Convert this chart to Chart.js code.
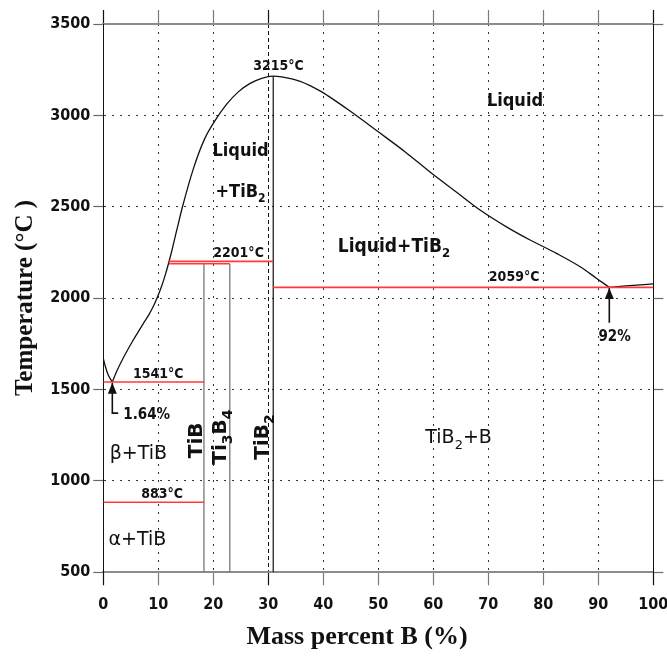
<!DOCTYPE html>
<html>
<head>
<meta charset="utf-8">
<script src="https://cdn.jsdelivr.net/npm/chart.js@4/dist/chart.umd.min.js"></script>
<style>
  html, body { margin: 0; padding: 0; background: #fff; }
  #wrap { width: 667px; height: 661px; }
</style>
</head>
<body>
<div id="wrap"><canvas id="c" width="667" height="661"></canvas></div>
<script>
// Ti–B phase diagram: temperature (°C) vs. mass percent B

const xTicks = [0, 10, 20, 30, 40, 50, 60, 70, 80, 90, 100];
const yTicks = [500, 1000, 1500, 2000, 2500, 3000, 3500];

// Liquidus, Ti-rich branch down to the eutectic at 1.64 % B
const liquidusTiSide = [[0, 1670], [0.3, 1634], [0.9, 1579], [1.64, 1541]];

// Liquidus of TiB2 from the Ti-side eutectic over the congruent maximum to the B-side eutectic
const liquidusMain = [
  [1.64, 1541], [2.4, 1597], [3.6, 1671], [5.45, 1771], [7.3, 1862], [8.3, 1910],
  [9.3, 1968], [10.3, 2040], [11.3, 2130], [12.3, 2240], [13.3, 2365], [14.4, 2500],
  [16.4, 2710], [18.4, 2870], [20.4, 2975], [22.4, 3060], [24.6, 3130], [26.7, 3175],
  [28.8, 3203], [30.9, 3215], [32.4, 3211], [35.8, 3186], [39.4, 3134], [41.2, 3100],
  [44.8, 3025], [50.0, 2910], [54.9, 2800], [59.4, 2690], [64.3, 2578], [68.5, 2482],
  [73.3, 2390], [77.6, 2318], [82.4, 2245], [86.7, 2172], [89.7, 2108], [92, 2059]
];

// Liquidus of boron, B-side eutectic to pure B
const liquidusBSide = [[92, 2059], [95, 2067], [100, 2078]];

// Compound lines: composition (% B) and upper temperature
const compoundNames = ['TiB', 'Ti3B4', 'TiB2'];
const compoundX     = [18.3, 23.0, 30.9];
const compoundTop   = [2188, 2188, 3215];

// Invariant isotherms: temperature and composition span
const isothermT     = [2201, 2188, 2059, 1541, 883];
const isothermFrom  = [11.9, 11.9, 30.9, 0, 0];
const isothermTo    = [30.9, 23.0, 100, 18.3, 18.3];

// Marker arrows for the eutectic compositions
const arrow92  = [[92, 1865], [92, 2056]];
const arrow164 = [[2.7, 1371], [1.64, 1371], [1.64, 1537]];

const SANS_C = '"DejaVu Sans Condensed", "DejaVu Sans", sans-serif';
const SANS = '"DejaVu Sans", sans-serif';
const SERIF = '"Liberation Serif", "Times New Roman", serif';

// Text placed on the diagram (x in % B, y in °C; alphabetic baseline)
const annotations = [
  { text: '3215°C',       x: 31.85, y: 3249, size: 14 },
  { text: 'Liquid',       x: 74.85, y: 3051, size: 18 },
  { text: 'Liquid',       x: 24.95, y: 2777, size: 18 },
  { text: '+TiB_2',       x: 24.95, y: 2555, size: 18 },
  { text: 'Liquid+TiB_2', x: 52.85, y: 2254, size: 19 },
  { text: '2201°C',       x: 24.6,  y: 2226, size: 14 },
  { text: '2059°C',       x: 74.7,  y: 2094, size: 14 },
  { text: '92%',          x: 92.95, y: 1765, size: 15 },
  { text: '1541°C',       x: 10.0,  y: 1565, size: 14 },
  { text: '1.64%',        x: 3.64,  y: 1337, size: 15, align: 'left' },
  { text: 'β+TiB',        x: 6.37,  y: 1118, size: 19, weight: 'normal', family: SANS },
  { text: '883°C',        x: 10.7,  y: 908,  size: 14 },
  { text: 'α+TiB',        x: 6.2,   y: 649,  size: 19, weight: 'normal', family: SANS },
  { text: 'TiB_2+B',      x: 64.6,  y: 1206, size: 19, weight: 'normal', family: SANS },
  { text: 'TiB',          x: 17.9,  y: 1222, size: 20, angle: -90, family: SANS },
  { text: 'Ti_3B_4',      x: 22.3,  y: 1240, size: 20, angle: -90, family: SANS },
  { text: 'TiB_2',        x: 29.9,  y: 1240, size: 20, angle: -90, family: SANS }
];

const pts = a => a.map(([x, y]) => ({ x, y }));

const datasets = [];
// isotherms (red)
isothermT.forEach((t, i) => {
  datasets.push({
    label: t + '°C', data: pts([[isothermFrom[i], t], [isothermTo[i], t]]),
    showLine: true, borderColor: '#ff3a3a', borderWidth: 1.6, pointRadius: 0
  });
});
// compound lines
compoundNames.forEach((n, i) => {
  datasets.push({
    label: n, data: pts([[compoundX[i], 500], [compoundX[i], compoundTop[i]]]),
    showLine: true, borderColor: n === 'TiB2' ? '#222' : '#777', borderWidth: 1.3, pointRadius: 0
  });
});
// liquidus curves
[liquidusTiSide, liquidusMain, liquidusBSide].forEach((d, i) => {
  datasets.push({
    label: 'liquidus ' + i, data: pts(d), showLine: true, borderColor: '#111',
    borderWidth: 1.3, pointRadius: 0, cubicInterpolationMode: 'monotone'
  });
});
// arrows
[arrow92, arrow164].forEach((d, i) => {
  datasets.push({
    label: 'arrow ' + i, data: pts(d), showLine: true, borderColor: '#111',
    borderWidth: 1.6, pointRadius: 0, arrowHead: true
  });
});

function parseRich(s) {
  const parts = []; const re = /_(\d+)/g; let last = 0, m;
  while ((m = re.exec(s))) {
    if (m.index > last) parts.push({ t: s.slice(last, m.index), sub: false });
    parts.push({ t: m[1], sub: true });
    last = re.lastIndex;
  }
  if (last < s.length) parts.push({ t: s.slice(last), sub: false });
  return parts;
}

function drawRich(ctx, s, px, py, o) {
  const parts = parseRich(s);
  const fam = o.family || SANS_C;
  const wt = o.weight || 'bold';
  const main = `${wt} ${o.size}px ${fam}`;
  const subSize = Math.round(o.size * 0.68);
  const sub = `${wt} ${subSize}px ${fam}`;
  ctx.save();
  ctx.translate(px, py);
  if (o.angle) ctx.rotate(o.angle * Math.PI / 180);
  let w = 0;
  parts.forEach(p => { ctx.font = p.sub ? sub : main; p.w = ctx.measureText(p.t).width; w += p.w; });
  let cx = o.align === 'left' ? 0 : -w / 2;
  ctx.fillStyle = '#111';
  ctx.textBaseline = 'alphabetic';
  ctx.textAlign = 'left';
  parts.forEach(p => {
    ctx.font = p.sub ? sub : main;
    ctx.fillText(p.t, cx, p.sub ? o.size * 0.3 : 0);
    cx += p.w;
  });
  ctx.restore();
}

const phaseLabels = {
  id: 'phaseLabels',
  afterDatasetsDraw(chart) {
    const { ctx, scales: { x, y } } = chart;
    // arrowheads at the end of flagged datasets
    chart.data.datasets.forEach((ds, i) => {
      if (!ds.arrowHead) return;
      const el = chart.getDatasetMeta(i).data;
      const a = el[el.length - 2], b = el[el.length - 1];
      const ang = Math.atan2(b.y - a.y, b.x - a.x);
      const L = 11, W = 4.5;
      const bx = b.x - L * Math.cos(ang), by = b.y - L * Math.sin(ang);
      ctx.save();
      ctx.fillStyle = ds.borderColor;
      ctx.beginPath();
      ctx.moveTo(b.x, b.y);
      ctx.lineTo(bx + W * Math.sin(ang), by - W * Math.cos(ang));
      ctx.lineTo(bx - W * Math.sin(ang), by + W * Math.cos(ang));
      ctx.closePath();
      ctx.fill();
      ctx.restore();
    });
    annotations.forEach(a => drawRich(ctx, a.text, x.getPixelForValue(a.x), y.getPixelForValue(a.y), a));

    // axis titles
    ctx.save();
    ctx.fillStyle = '#111';
    ctx.textAlign = 'center';
    ctx.textBaseline = 'alphabetic';
    ctx.font = `bold 26px ${SERIF}`;
    ctx.fillText('Mass percent B (%)', 357, 644);
    ctx.font = `bold 25px ${SERIF}`;
    ctx.translate(32, 298);
    ctx.rotate(-Math.PI / 2);
    ctx.fillText('Temperature (°C )', 0, 0);
    ctx.restore();
  }
};

const tickFont = { family: SANS_C, size: 16, weight: 'bold' };
const isEdgeX = v => v === 0 || v === 100;
const isEdgeY = v => v === 500 || v === 3500;
const gridDash = c => (c.tick ? (c.tick.value === 30 ? [4, 3] : [2, 6]) : []);
const xTickColor = c => (c.tick && (isEdgeX(c.tick.value) || c.tick.value === 30) ? '#111' : '#7a7a7a');
const plainLabel = v => String(v);

new Chart(document.getElementById('c'), {
  type: 'scatter',
  data: { datasets },
  options: {
    responsive: false,
    animation: false,
    devicePixelRatio: 1,
    layout: { padding: { top: 10, right: 3.7, bottom: 0, left: 0 } },
    plugins: { legend: { display: false }, tooltip: { enabled: false }, title: { display: false } },
    scales: {
      x: {
        type: 'linear', position: 'bottom', min: 0, max: 100,
        afterBuildTicks: s => { s.ticks = xTicks.map(v => ({ value: v })); },
        afterFit: s => { s.height = 88.7; s.paddingLeft = 0; s.paddingRight = 0; },
        ticks: { font: tickFont, color: '#111', padding: 10, maxRotation: 0, autoSkip: false, callback: plainLabel },
        grid: {
          color: c => (c.tick && isEdgeX(c.tick.value) ? 'rgba(0,0,0,0)' : (c.tick && c.tick.value === 30 ? '#111' : '#333')),
          tickColor: xTickColor, tickLength: 13, lineWidth: 1, tickWidth: 1.2
        },
        border: { color: '#8c8c8c', width: 2, dash: gridDash }
      },
      x2: {
        type: 'linear', position: 'top', min: 0, max: 100,
        afterBuildTicks: s => { s.ticks = xTicks.map(v => ({ value: v })); },
        afterFit: s => { s.height = 14; s.paddingLeft = 0; s.paddingRight = 0; },
        ticks: { display: false },
        grid: { drawOnChartArea: false, tickColor: xTickColor, tickLength: 14, tickWidth: 1.2 },
        border: { color: '#8c8c8c', width: 2 }
      },
      y: {
        type: 'linear', position: 'left', min: 500, max: 3500,
        afterBuildTicks: s => { s.ticks = yTicks.map(v => ({ value: v })); },
        afterFit: s => { s.width = 103.3; s.paddingTop = 0; s.paddingBottom = 0; },
        ticks: { font: tickFont, color: '#111', padding: 3, callback: plainLabel },
        grid: {
          color: c => (c.tick && isEdgeY(c.tick.value) ? 'rgba(0,0,0,0)' : '#333'),
          tickColor: '#6a6a6a', tickLength: 10, lineWidth: 1, tickWidth: 1.2
        },
        border: { color: '#111', width: 1, dash: c => (c.tick ? [2, 6] : []) }
      },
      y2: {
        type: 'linear', position: 'right', min: 500, max: 3500,
        afterBuildTicks: s => { s.ticks = yTicks.map(v => ({ value: v })); },
        afterFit: s => { s.width = 10; s.paddingTop = 0; s.paddingBottom = 0; },
        ticks: { display: false },
        grid: { drawOnChartArea: false, tickColor: '#6a6a6a', tickLength: 10, tickWidth: 1.2 },
        border: { color: '#111', width: 1 }
      }
    }
  },
  plugins: [phaseLabels]
});
</script>
</body>
</html>
